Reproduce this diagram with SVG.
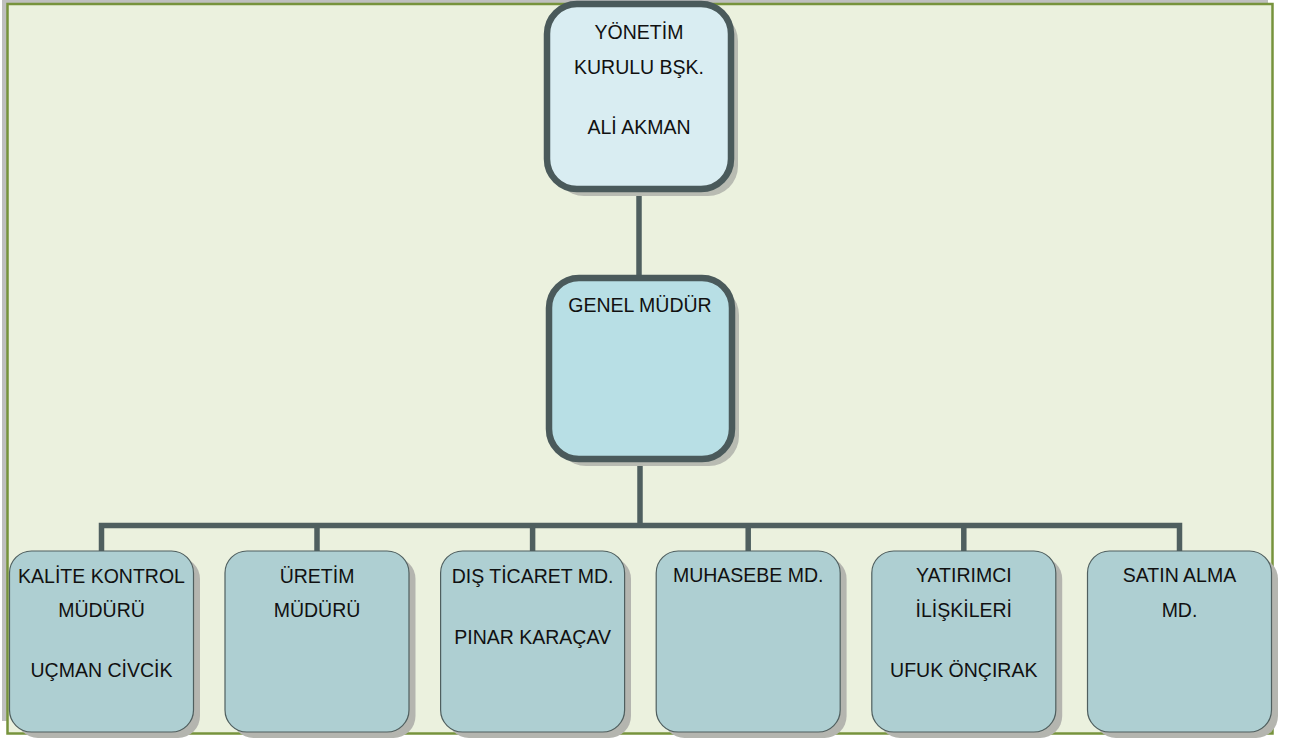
<svg xmlns="http://www.w3.org/2000/svg" width="1298" height="741" viewBox="0 0 1298 741">
<style>
  .t { font-family: "Liberation Sans", Arial, sans-serif; font-size: 19.5px; fill: #111; text-anchor: middle; }
  .big { fill: #D9EDF2; stroke: #4A5A5B; stroke-width: 6.5; }
  .mid { fill: #B8DFE5; stroke: #4A5A5B; stroke-width: 6.5; }
  .bigsh { fill: #B8BBB2; }
  .box { fill: #AECFD2; stroke: #4F5F5F; stroke-width: 1.2; }
  .sh { fill: #B4B5AF; }
  .con { fill: none; stroke: #4F5F5F; stroke-width: 5.5; stroke-linejoin: miter; }
</style>
<rect x="2" y="0" width="1266" height="721" fill="#BFBFBF"/>
<rect x="7.5" y="4" width="1265" height="729.5" fill="#EBF1DE" stroke="#77933C" stroke-width="2.5"/>

<g id="connectors">
  <path class="con" d="M639 190 V280"/>
  <path class="con" d="M640 459 V525.5"/>
  <path class="con" d="M101.5 551 V525.5 H1179.5 V551"/>
  <path class="con" d="M317 525.5 V551"/>
  <path class="con" d="M532.6 525.5 V551"/>
  <path class="con" d="M748.2 525.5 V551"/>
  <path class="con" d="M963.8 525.5 V551"/>
</g>

<g id="node-yonetim">
  <rect class="bigsh" x="554" y="11" width="184" height="185" rx="30"/>
  <rect class="big" x="547" y="4" width="184" height="185" rx="30"/>
  <text class="t" x="639" y="39">YÖNETİM</text>
  <text class="t" x="639" y="74">KURULU BŞK.</text>
  <text class="t" x="639" y="134">ALİ AKMAN</text>
</g>

<g id="node-genel">
  <rect class="bigsh" x="556" y="285" width="183" height="181" rx="30"/>
  <rect class="mid" x="549" y="278" width="183" height="181" rx="30"/>
  <text class="t" x="640" y="312">GENEL MÜDÜR</text>
</g>

<g id="node-kalite">
  <rect class="sh" x="16" y="557" width="184" height="181" rx="22"/>
  <rect class="box" x="9.5" y="551" width="184" height="181" rx="22"/>
  <text class="t" x="101.5" y="583">KALİTE KONTROL</text>
  <text class="t" x="101.5" y="617">MÜDÜRÜ</text>
  <text class="t" x="101.5" y="677">UÇMAN CİVCİK</text>
</g>

<g id="node-uretim">
  <rect class="sh" x="231.5" y="557" width="184" height="181" rx="22"/>
  <rect class="box" x="225" y="551" width="184" height="181" rx="22"/>
  <text class="t" x="317" y="583">ÜRETİM</text>
  <text class="t" x="317" y="617">MÜDÜRÜ</text>
</g>

<g id="node-dis">
  <rect class="sh" x="447" y="557" width="184" height="181" rx="22"/>
  <rect class="box" x="440.6" y="551" width="184" height="181" rx="22"/>
  <text class="t" x="532.6" y="583">DIŞ TİCARET MD.</text>
  <text class="t" x="532.6" y="644">PINAR KARAÇAV</text>
</g>

<g id="node-muhasebe">
  <rect class="sh" x="662.6" y="557" width="184" height="181" rx="22"/>
  <rect class="box" x="656.2" y="551" width="184" height="181" rx="22"/>
  <text class="t" x="748.2" y="582">MUHASEBE MD.</text>
</g>

<g id="node-yatirimci">
  <rect class="sh" x="878.2" y="557" width="184" height="181" rx="22"/>
  <rect class="box" x="871.8" y="551" width="184" height="181" rx="22"/>
  <text class="t" x="963.8" y="582">YATIRIMCI</text>
  <text class="t" x="963.8" y="617">İLİŞKİLERİ</text>
  <text class="t" x="963.8" y="677">UFUK ÖNÇIRAK</text>
</g>

<g id="node-satin">
  <rect class="sh" x="1094" y="557" width="184" height="181" rx="22"/>
  <rect class="box" x="1087.5" y="551" width="184" height="181" rx="22"/>
  <text class="t" x="1179.5" y="582">SATIN ALMA</text>
  <text class="t" x="1179.5" y="617">MD.</text>
</g>
</svg>
